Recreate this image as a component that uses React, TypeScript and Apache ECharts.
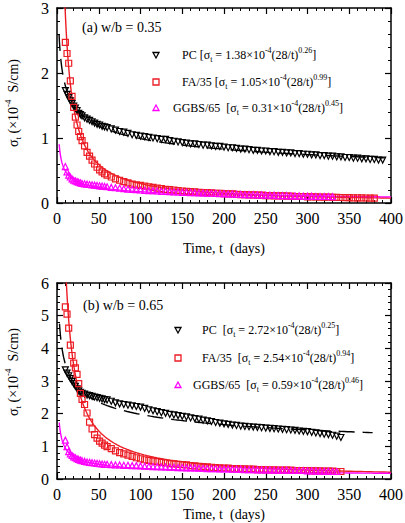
import React, { useEffect, useRef } from 'react';
import * as echarts from 'echarts';

const SERIF = '"Liberation Serif", "Times New Roman", Times, serif';

const BLACK = '#000000';
const RED = '#ec1c24';
const MAGENTA = '#ff00ff';

// Measurement ages (days); each series uses as many as it has values
const measurementDays = [
  10, 12, 14, 16, 18, 20, 22, 24, 26, 28, 30,
  33, 36, 39, 42, 45, 48, 51, 54, 57,
  60, 65, 70, 75, 80, 85, 90, 95, 100, 105,
  110, 115, 120, 125, 130, 135, 140, 145, 150, 155,
  160, 165, 170, 175, 180, 185, 190, 195, 200, 205,
  210, 215, 220, 225, 230, 235, 240, 245, 250, 255,
  260, 265, 270, 275, 280, 285, 290, 295, 300, 305,
  310, 315, 320, 325, 330, 335, 340, 345, 350, 355,
  360, 365, 370, 375, 380, 385, 390,
];

// (a) w/b = 0.35, conductivity in 1e-4 S/cm
const pcA = [
  1.73, 1.67, 1.62, 1.57, 1.53, 1.49, 1.46, 1.42, 1.38, 1.36, 1.34,
  1.31, 1.29, 1.27, 1.25, 1.23, 1.21, 1.2, 1.18, 1.17,
  1.16, 1.14, 1.12, 1.1, 1.09, 1.07, 1.05, 1.04, 1.03, 1.02,
  1.01, 1.0, 0.99, 0.98, 0.98, 0.96, 0.95, 0.94, 0.93, 0.92,
  0.91, 0.91, 0.9, 0.89, 0.89, 0.88, 0.87, 0.87, 0.86, 0.85,
  0.85, 0.84, 0.83, 0.83, 0.82, 0.81, 0.81, 0.8, 0.8, 0.79,
  0.79, 0.78, 0.78, 0.77, 0.77, 0.76, 0.76, 0.75, 0.75, 0.74,
  0.74, 0.73, 0.73, 0.72, 0.72, 0.71, 0.71, 0.7, 0.7, 0.69,
  0.69, 0.68, 0.68, 0.67, 0.67, 0.66, 0.66,
];
const faA = [
  2.47, 2.3, 2.15, 1.88, 1.64, 1.47, 1.32, 1.2, 1.1, 1.02, 0.96,
  0.88, 0.78, 0.72, 0.66, 0.6, 0.55, 0.51, 0.48, 0.45,
  0.43, 0.4, 0.37, 0.35, 0.33, 0.31, 0.29, 0.28, 0.27, 0.26,
  0.25, 0.24, 0.23, 0.22, 0.21, 0.205, 0.2, 0.19, 0.185, 0.18,
  0.175, 0.17, 0.165, 0.16, 0.16, 0.155, 0.15, 0.15, 0.145, 0.14,
  0.14, 0.135, 0.13, 0.13, 0.125, 0.125, 0.12, 0.12, 0.115, 0.115,
  0.11, 0.11, 0.11, 0.105, 0.105, 0.1, 0.1, 0.1, 0.095, 0.095,
  0.095, 0.09, 0.09, 0.09, 0.088, 0.086, 0.085, 0.083, 0.082, 0.08,
  0.08, 0.078, 0.077, 0.076, 0.075,
];
const ggbsA = [
  0.56, 0.48, 0.43, 0.4, 0.37, 0.35, 0.34, 0.33, 0.32, 0.31, 0.3,
  0.295, 0.29, 0.285, 0.28, 0.275, 0.27, 0.265, 0.26, 0.255,
  0.25, 0.24, 0.235, 0.23, 0.22, 0.215, 0.21, 0.205, 0.2, 0.195,
  0.19, 0.19, 0.185, 0.18, 0.18, 0.175, 0.17, 0.17, 0.165, 0.165,
  0.16, 0.16, 0.155, 0.155, 0.15, 0.15, 0.15, 0.145, 0.145, 0.14,
  0.14, 0.135, 0.135, 0.13, 0.13, 0.13, 0.125, 0.125, 0.12, 0.12,
  0.12, 0.115, 0.115, 0.115, 0.11, 0.11, 0.11, 0.105, 0.105, 0.105,
  0.1, 0.1, 0.1, 0.1, 0.097,
];

// (b) w/b = 0.65
const pcB = [
  3.34, 3.24, 3.16, 3.07, 2.99, 2.92, 2.84, 2.76, 2.7, 2.65, 2.62,
  2.6, 2.57, 2.55, 2.53, 2.51, 2.49, 2.47, 2.45, 2.43,
  2.42, 2.38, 2.33, 2.3, 2.28, 2.26, 2.24, 2.22, 2.2, 2.16,
  2.12, 2.09, 2.06, 2.03, 2.01, 1.98, 1.96, 1.94, 1.92, 1.9,
  1.87, 1.85, 1.83, 1.8, 1.78, 1.76, 1.73, 1.71, 1.69, 1.67,
  1.65, 1.64, 1.62, 1.61, 1.6, 1.59, 1.58, 1.57, 1.56, 1.55,
  1.54, 1.53, 1.52, 1.51, 1.5, 1.49, 1.47, 1.46, 1.45, 1.43,
  1.41, 1.39, 1.37, 1.36, 1.34, 1.31, 1.27,
];
const faB = [
  5.27, 5.05, 4.62, 4.1, 3.78, 3.55, 3.4, 3.2, 2.92, 2.62, 2.44,
  2.28, 2.02, 1.74, 1.53, 1.36, 1.25, 1.16, 1.1, 1.04,
  0.99, 0.93, 0.86, 0.81, 0.77, 0.73, 0.69, 0.65, 0.62, 0.59,
  0.57, 0.55, 0.53, 0.51, 0.49, 0.47, 0.46, 0.45, 0.44, 0.43,
  0.41, 0.4, 0.39, 0.38, 0.37, 0.36, 0.35, 0.34, 0.33, 0.33,
  0.32, 0.32, 0.31, 0.31, 0.3, 0.3, 0.29, 0.29, 0.28, 0.28,
  0.28, 0.27, 0.27, 0.27, 0.27, 0.26, 0.26, 0.26, 0.26, 0.25,
  0.25, 0.25, 0.24, 0.24, 0.24, 0.23, 0.23,
];
const ggbsB = [
  1.19, 0.99, 0.84, 0.77, 0.72, 0.68, 0.65, 0.62, 0.6, 0.58, 0.56,
  0.54, 0.52, 0.51, 0.5, 0.49, 0.48, 0.47, 0.46, 0.45,
  0.45, 0.44, 0.43, 0.43, 0.42, 0.42, 0.41, 0.41, 0.4, 0.39,
  0.39, 0.38, 0.38, 0.37, 0.37, 0.36, 0.36, 0.35, 0.35, 0.34,
  0.34, 0.34, 0.33, 0.33, 0.32, 0.32, 0.32, 0.31, 0.31, 0.31,
  0.3, 0.3, 0.3, 0.29, 0.29, 0.29, 0.28, 0.28, 0.28, 0.28,
  0.27, 0.27, 0.27, 0.27, 0.26, 0.26, 0.26, 0.26, 0.25, 0.25,
  0.25, 0.24, 0.24, 0.24, 0.23, 0.23,
];

// Power-law fits sigma_t = k * (28/t)^n : [k, n, first day, last day]
const pcFitA = [1.38, 0.26, 2.5, 392];
const faFitA = [1.05, 0.99, 8.8, 400];
const ggbsFitA = [0.31, 0.45, 2.6, 400];
const pcFitB = [2.72, 0.25, 3.0, 378];
const faFitB = [2.54, 0.94, 10.3, 400];
const ggbsFitB = [0.59, 0.46, 2.7, 400];

const xTickStep = 50;
const yMaxA = 3;
const yMaxB = 6;

function fitPoints(fit: number[]) {
  const [k, n, t0, t1] = fit;
  const pts: number[][] = [];
  let t = t0;
  while (t < t1) {
    pts.push([t, k * Math.pow(28 / t, n)]);
    t += t < 20 ? 0.25 : t < 60 ? 1 : 4;
  }
  pts.push([t1, k * Math.pow(28 / t1, n)]);
  return pts;
}

function fmt(v: number) {
  return v.toFixed(2);
}

function fitLabel(name: string, gap: string, fit: number[]) {
  return (
    `{n|${name}${gap}[σ}{s|t}{n| = ${fmt(fit[0])}×10}{p|-4}{n|(28/t)}{p|${fmt(fit[1])}}{n|]}`
  );
}

const legendRich = {
  n: { fontFamily: SERIF, fontSize: 12, fill: '#000', lineHeight: 22 },
  s: { fontFamily: SERIF, fontSize: 8, fill: '#000', padding: [9, 0, 0, 0] },
  p: { fontFamily: SERIF, fontSize: 8, fill: '#000', padding: [0, 0, 9, 0] },
};
const titleRich = {
  n: { fontFamily: SERIF, fontSize: 14, fill: '#000', lineHeight: 24 },
  s: { fontFamily: SERIF, fontSize: 9, fill: '#000', padding: [10, 0, 0, 0] },
  p: { fontFamily: SERIF, fontSize: 9, fill: '#000', padding: [0, 0, 10, 0] },
};

const axisLineStyle = { color: '#000', width: 1.5 };

function xAxisDef(gridIndex: number, position: 'top' | 'bottom') {
  return {
    type: 'value',
    gridIndex,
    position,
    min: 0,
    max: 400,
    interval: xTickStep,
    axisLine: { show: true, onZero: false, lineStyle: axisLineStyle },
    axisTick: { show: true, inside: true, length: 6, lineStyle: { color: '#000', width: 1.2 } },
    minorTick: { show: true, splitNumber: 5, length: 3, lineStyle: { color: '#000', width: 1 } },
    axisLabel: {
      show: position === 'bottom',
      margin: 7,
      fontFamily: SERIF,
      fontSize: 16,
      color: '#000',
    },
    splitLine: { show: false },
    minorSplitLine: { show: false },
  };
}

function yAxisDef(gridIndex: number, position: 'left' | 'right', max: number) {
  return {
    type: 'value',
    gridIndex,
    position,
    min: 0,
    max,
    interval: 1,
    axisLine: { show: true, onZero: false, lineStyle: axisLineStyle },
    axisTick: { show: true, inside: true, length: 6, lineStyle: { color: '#000', width: 1.2 } },
    minorTick: { show: true, splitNumber: 5, length: 3, lineStyle: { color: '#000', width: 1 } },
    axisLabel: {
      show: position === 'left',
      margin: 8,
      fontFamily: SERIF,
      fontSize: 16,
      color: '#000',
    },
    splitLine: { show: false },
    minorSplitLine: { show: false },
  };
}

function markers(values: number[], xi: number, yi: number, symbol: string, rotate: number, color: string, z: number) {
  return {
    type: 'scatter',
    xAxisIndex: xi,
    yAxisIndex: yi,
    data: values.map((v, i) => [measurementDays[i], v]),
    symbol,
    symbolRotate: rotate,
    symbolSize: 6,
    itemStyle: { color: 'rgba(0,0,0,0)', borderColor: color, borderWidth: 1.2, opacity: 1 },
    silent: true,
    z,
  };
}

function fitLine(fit: number[], xi: number, yi: number, color: string, dashed: boolean) {
  return {
    type: 'line',
    xAxisIndex: xi,
    yAxisIndex: yi,
    data: fitPoints(fit),
    showSymbol: false,
    symbol: 'none',
    clip: true,
    lineStyle: { color, width: 1.4, type: dashed ? [16, 8] : 'solid' },
    silent: true,
    z: 1,
  };
}

function legendMarker(kind: string, cx: number, cy: number, color: string) {
  const style = { fill: 'none', stroke: color, lineWidth: 1.3 };
  if (kind === 'square') {
    return { type: 'rect', shape: { x: cx - 3, y: cy - 3, width: 6, height: 6 }, style };
  }
  if (kind === 'down') {
    return {
      type: 'polygon',
      shape: { points: [[cx - 3, cy - 2.5], [cx + 3, cy - 2.5], [cx, cy + 3]] },
      style,
    };
  }
  return {
    type: 'polygon',
    shape: { points: [[cx - 3, cy + 2.5], [cx + 3, cy + 2.5], [cx, cy - 3]] },
    style,
  };
}

function legendText(x: number, y: number, text: string) {
  return {
    type: 'text',
    x,
    y,
    style: { text, rich: legendRich, align: 'left', verticalAlign: 'middle' },
  };
}

function plainText(x: number, y: number, text: string, size: number, align = 'left') {
  return {
    type: 'text',
    x,
    y,
    style: {
      text,
      fontFamily: SERIF,
      fontSize: size,
      fill: '#000',
      align,
      verticalAlign: 'middle',
    },
  };
}

const yTitle = '{n|σ}{s|t}{n| (×10}{p|-4}{n|  S/cm)}';

export default function App() {
  const ref = useRef<HTMLDivElement>(null);

  useEffect(() => {
    if (!ref.current) return;
    const chart = echarts.init(ref.current, null, { renderer: 'svg' });

    const option = {
      animation: false,
      backgroundColor: '#ffffff',
      grid: [
        { left: 57, top: 8, width: 334, height: 195, containLabel: false, outerBoundsMode: 'none' },
        { left: 57, top: 283, width: 334, height: 196, containLabel: false, outerBoundsMode: 'none' },
      ],
      xAxis: [
        xAxisDef(0, 'bottom'),
        xAxisDef(0, 'top'),
        xAxisDef(1, 'bottom'),
        xAxisDef(1, 'top'),
      ],
      yAxis: [
        yAxisDef(0, 'left', yMaxA),
        yAxisDef(0, 'right', yMaxA),
        yAxisDef(1, 'left', yMaxB),
        yAxisDef(1, 'right', yMaxB),
      ],
      series: [
        fitLine(pcFitA, 0, 0, BLACK, true),
        fitLine(faFitA, 0, 0, RED, false),
        fitLine(ggbsFitA, 0, 0, MAGENTA, false),
        markers(pcA, 0, 0, 'triangle', 180, BLACK, 2),
        markers(faA, 0, 0, 'rect', 0, RED, 3),
        markers(ggbsA, 0, 0, 'triangle', 0, MAGENTA, 4),

        fitLine(pcFitB, 2, 2, BLACK, true),
        fitLine(faFitB, 2, 2, RED, false),
        fitLine(ggbsFitB, 2, 2, MAGENTA, false),
        markers(pcB, 2, 2, 'triangle', 180, BLACK, 2),
        markers(faB, 2, 2, 'rect', 0, RED, 3),
        markers(ggbsB, 2, 2, 'triangle', 0, MAGENTA, 4),
      ],
      graphic: {
        elements: [
          // panel (a)
          plainText(82, 27, '(a) w/b = 0.35', 14),
          legendMarker('down', 156, 55, BLACK),
          legendMarker('square', 156, 82, RED),
          legendMarker('up', 156, 108, MAGENTA),
          legendText(182, 55, fitLabel('PC', ' ', pcFitA)),
          legendText(182, 82, fitLabel('FA/35', ' ', faFitA)),
          legendText(173, 108, fitLabel('GGBS/65', '  ', ggbsFitA)),
          {
            type: 'text',
            x: 13,
            y: 103,
            rotation: Math.PI / 2,
            style: { text: yTitle, rich: titleRich, align: 'center', verticalAlign: 'middle' },
          },
          plainText(224, 248, 'Time, t  (days)', 14, 'center'),

          // panel (b)
          plainText(83, 305, '(b) w/b = 0.65', 14),
          legendMarker('down', 178, 330, BLACK),
          legendMarker('square', 178, 358, RED),
          legendMarker('up', 178, 385, MAGENTA),
          legendText(202, 330, fitLabel('PC', '  ', pcFitB)),
          legendText(202, 358, fitLabel('FA/35', '  ', faFitB)),
          legendText(193, 385, fitLabel('GGBS/65', '  ', ggbsFitB)),
          {
            type: 'text',
            x: 13,
            y: 372,
            rotation: Math.PI / 2,
            style: { text: yTitle, rich: titleRich, align: 'center', verticalAlign: 'middle' },
          },
          plainText(224, 514, 'Time, t  (days)', 14, 'center'),
        ],
      },
    };

    chart.setOption(option as any);
    return () => {
      chart.dispose();
    };
  }, []);

  return (
    <div
      ref={ref}
      style={{ position: 'fixed', left: 0, top: 0, width: 405, height: 523, background: '#fff' }}
    />
  );
}
